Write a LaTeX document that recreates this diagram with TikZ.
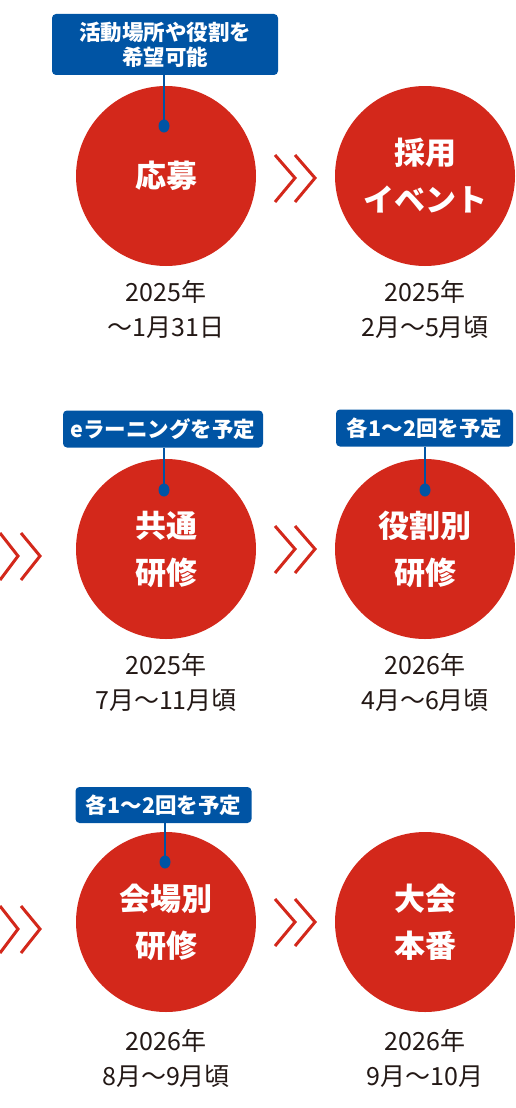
\documentclass[tikz,border=0pt]{standalone}
\usepackage{fontspec}
\setmainfont{Noto Sans CJK JP}
\definecolor{cred}{RGB}{211,40,27}
\definecolor{cblue}{RGB}{0,84,164}
\definecolor{ctext}{RGB}{35,24,21}
\usetikzlibrary{shapes.geometric}
\tikzset{
  stage/.style={circle,fill=cred,minimum size=180pt,inner sep=0pt,text=white,font=\fontsize{31}{47}\selectfont\bfseries,align=center},
  datebox/.style={text=ctext,font=\fontsize{25}{35}\selectfont,align=center,inner sep=0pt},
  tagbox/.style={fill=cblue,rounded corners=4pt,text=white,font=\fontsize{21.5}{25}\selectfont\bfseries,align=center,inner sep=0pt},
  chev/.style={draw=cred,line width=3pt,line cap=butt,line join=miter},
  pin/.style={draw=cblue,line width=2pt},
  pindot/.style={fill=cblue,draw=none,ellipse,minimum width=11pt,minimum height=13pt,inner sep=0pt}
}
\begin{document}
\begin{tikzpicture}[x=1pt,y=-1pt]
\useasboundingbox (0,0) rectangle (516,1108);
% circles
\node[stage] (c1) at (166,176) {応募};
\node[stage] (c2) at (425,176) {採用\\イベント};
\node[stage] (c3) at (166,549) {共通\\研修};
\node[stage] (c4) at (425,549) {役割別\\研修};
\node[stage] (c5) at (166,922) {会場別\\研修};
\node[stage] (c6) at (425,922) {大会\\本番};
% dates
\node[datebox] (d1) at (166,309) {2025年\\〜1月31日};
\node[datebox] (d2) at (425,309) {2025年\\2月〜5月頃};
\node[datebox] (d3) at (166,682) {2025年\\7月〜11月頃};
\node[datebox] (d4) at (425,682) {2026年\\4月〜6月頃};
\node[datebox] (d5) at (166,1058) {2026年\\8月〜9月頃};
\node[datebox] (d6) at (425,1058) {2026年\\9月〜10月};
% tags
\node[tagbox,minimum width=226pt,minimum height=61pt] (t1) at (165,44.5) {活動場所や役割を\\希望可能};
\node[tagbox,minimum width=200pt,minimum height=37pt] (t3) at (163,429) {eラーニングを予定};
\node[tagbox,minimum width=177pt,minimum height=37pt] (t4) at (424.5,428) {各1〜2回を予定};
\node[tagbox,minimum width=176pt,minimum height=36pt] (t5) at (163.5,805) {各1〜2回を予定};
\node[pindot] (p1) at (164,126) {};
\node[pindot] (p3) at (164,490) {};
\node[pindot] (p4) at (425,490) {};
\node[pindot] (p5) at (165,862) {};
\draw[pin] (t1.south -| p1) -- (p1.center);
\draw[pin] (t3.south -| p3) -- (p3.center);
\draw[pin] (t4.south -| p4) -- (p4.center);
\draw[pin] (t5.south -| p5) -- (p5.center);
% chevrons
\draw[chev] (275,155) -- (295,178) -- (275,202);
\draw[chev] (295,155) -- (315,178) -- (295,202);
\draw[chev] (275,526) -- (295,549) -- (275,573);
\draw[chev] (295,526) -- (315,549) -- (295,573);
\draw[chev] (0,533) -- (18,556) -- (0,580);
\draw[chev] (21,533) -- (40,556) -- (21,580);
\draw[chev] (275,899) -- (295,922) -- (275,946);
\draw[chev] (295,899) -- (315,922) -- (295,946);
\draw[chev] (0,906) -- (18,929) -- (0,953);
\draw[chev] (21,906) -- (40,929) -- (21,953);
\end{tikzpicture}
\end{document}
